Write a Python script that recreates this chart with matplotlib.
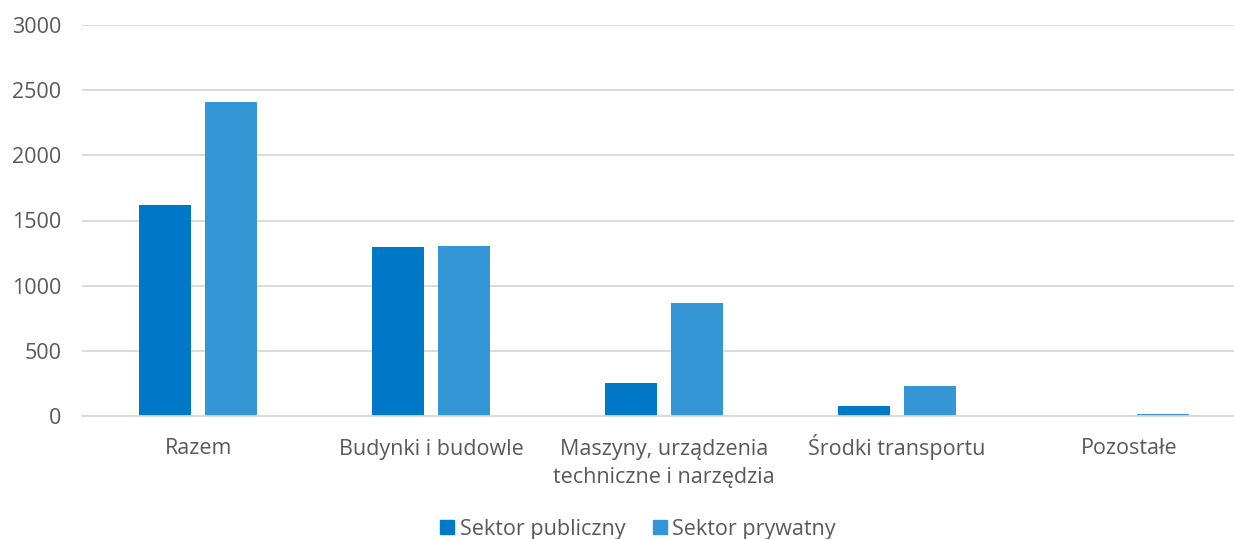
import matplotlib.pyplot as plt
import numpy as np
from matplotlib.patches import Patch

categories = ['Razem', 'Budynki i budowle', 'Maszyny, urządzenia\ntechniczne i narzędzia',
              'Środki transportu', 'Pozostałe']
publiczny = [1620, 1295, 253, 77, 0]
prywatny = [2410, 1305, 865, 230, 17]
y_ticks = [0, 500, 1000, 1500, 2000, 2500, 3000]

c_pub = '#0078C8'
c_pryw = '#3596D5'
txt = '#595959'
fs = 15.5

plt.rcParams['font.family'] = ['Open Sans', 'DejaVu Sans']

fig = plt.figure(figsize=(12.34, 5.39), dpi=100)
ax = fig.add_axes([82 / 1234, 123 / 539, (1234 - 82) / 1234, 391 / 539])

x = np.arange(len(categories))
w = 0.2234
off = 0.1418
ax.bar(x - off, publiczny, w, color=c_pub, label='Sektor publiczny')
ax.bar(x + off, prywatny, w, color=c_pryw, label='Sektor prywatny')

ax.set_xlim(-0.5, 4.5 - 12 / 232.75)
ax.set_ylim(0, 3000)
ax.set_yticks(y_ticks)
ax.grid(axis='y', color='#D9D9D9', linewidth=1.3)
ax.set_axisbelow(True)
for s in ['top', 'right', 'left']:
    ax.spines[s].set_visible(False)
ax.spines['bottom'].set_color('#D9D9D9')
ax.spines['bottom'].set_linewidth(1.3)
ax.tick_params(axis='both', length=0, labelsize=fs, colors=txt)
ax.tick_params(axis='y', pad=15)

# etykiety kategorii - każda linia osobno, wyrównane do linii bazowej
ax.set_xticks(x)
ax.set_xticklabels([])
trans = ax.get_xaxis_transform()
for xi, cat in zip(x, categories):
    for i, line in enumerate(cat.split('\n')):
        y_px = 454.5 + 29 * i
        ax.text(xi, -(y_px - 416) / 391, line, transform=trans, ha='center',
                va='baseline', fontsize=fs, color=txt, clip_on=False)

handles = [Patch(color=c_pub), Patch(color=c_pryw)]
fig.legend(handles, ['Sektor publiczny', 'Sektor prywatny'], loc='center',
           bbox_to_anchor=(638 / 1234, 1 - 529 / 539), ncol=2, frameon=False,
           fontsize=fs, labelcolor=txt, handlelength=0.65, handleheight=0.65,
           handletextpad=0.25, columnspacing=1.3, borderpad=0)

fig.savefig('out.png', dpi=100)
